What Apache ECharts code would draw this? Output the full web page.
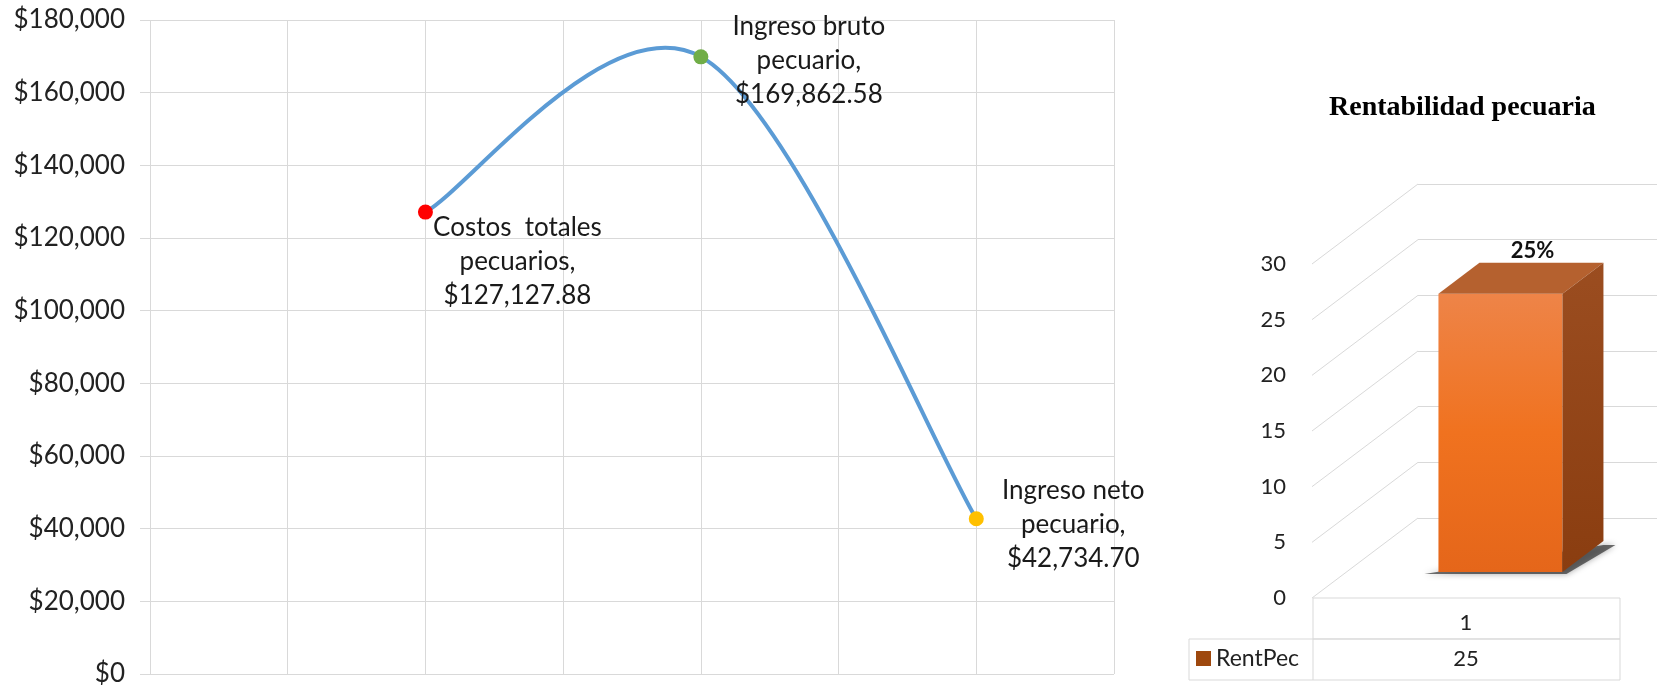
<!DOCTYPE html>
<html><head><meta charset="utf-8">
<script src="https://cdn.jsdelivr.net/npm/echarts@6/dist/echarts.min.js"></script>
<style>html,body{margin:0;padding:0;background:#fff}#c{width:1657px;height:692px}</style>
</head><body><div id="c"></div>
<script>
// ---- data: left chart ----
const pointNames = ['Costos  totales\npecuarios', 'Ingreso bruto\npecuario', 'Ingreso neto\npecuario'];
const pointX = [1, 2, 3];
const pointValues = [127127.88, 169862.58, 42734.70];
const leftYMin = 0, leftYMax = 180000, leftYStep = 20000;
const leftXMin = 0, leftXMax = 3.5, leftXStep = 0.5;
// ---- data: right chart ----
const rentTitle = 'Rentabilidad pecuaria';
const rentCategories = ['1'];
const rentSeriesName = 'RentPec';
const rentValues = [25];
const rentTicks = [0, 5, 10, 15, 20, 25, 30];

// ---- styles / layout ----
const pointColors = ['#FF0000', '#70AD47', '#FFC000'];
const labelOffsets = [[92, 50], [108, 4], [97, 6]];
const FONT = 'Lato';
const DEPTH_DX = 106, DEPTH_DY = -80;

function money(v, dec) {
  const s = Number(v).toFixed(dec);
  const parts = s.split('.');
  parts[0] = parts[0].replace(/\B(?=(\d{3})+(?!\d))/g, ',');
  return '$' + parts.join('.');
}

const chart = echarts.init(document.getElementById('c'));

const option = {
  backgroundColor: '#ffffff',
  animation: false,
  title: {
    text: rentTitle, left: 1324, top: 89,
    textStyle: {fontFamily: 'Liberation Serif', fontWeight: 'bold', fontSize: 28, color: '#000'}
  },
  legend: {
    data: [rentSeriesName], left: 1196, top: 647, padding: 0,
    icon: 'rect', itemWidth: 15, itemHeight: 15,
    textStyle: {fontFamily: FONT, fontSize: 23, color: '#222'}
  },
  grid: [
    {left: 150, right: 543, top: 20, bottom: 18},
    {left: 1312, width: 308, top: 264, height: 334},
    {left: 1418, right: 0, top: 184, height: 334}
  ],
  xAxis: [
    {gridIndex: 0, type: 'value', min: leftXMin, max: leftXMax, interval: leftXStep,
     axisLabel: {show: false}, axisTick: {show: false}, axisLine: {show: false},
     splitLine: {show: true, lineStyle: {color: '#d9d9d9', width: 1}}},
    {gridIndex: 1, type: 'category', data: rentCategories,
     axisLine: {show: false}, axisTick: {show: false}, splitLine: {show: false},
     axisLabel: {fontFamily: FONT, fontSize: 22, color: '#222', margin: 14}},
    {gridIndex: 2, type: 'category', data: rentCategories, show: false}
  ],
  yAxis: [
    {gridIndex: 0, type: 'value', min: leftYMin, max: leftYMax, interval: leftYStep,
     axisLine: {show: false},
     axisTick: {show: true, length: 10, lineStyle: {color: '#d9d9d9'}},
     splitLine: {show: true, lineStyle: {color: '#d9d9d9', width: 1}},
     axisLabel: {fontFamily: FONT, fontSize: 26, color: '#222', margin: 25,
                 formatter: v => money(v, 0)}},
    {gridIndex: 1, type: 'value', min: rentTicks[0], max: rentTicks[rentTicks.length - 1], interval: rentTicks[1] - rentTicks[0],
     axisLine: {show: false}, axisTick: {show: false}, splitLine: {show: false},
     axisLabel: {fontFamily: FONT, fontSize: 22, color: '#222', margin: 26}},
    {gridIndex: 2, type: 'value', min: rentTicks[0], max: rentTicks[rentTicks.length - 1], interval: rentTicks[1] - rentTicks[0],
     axisLine: {show: false}, axisTick: {show: false}, axisLabel: {show: false},
     splitLine: {show: true, lineStyle: {color: '#d9d9d9', width: 1}}}
  ],
  series: [
    {
      // smoothed connecting curve (Catmull-Rom style, as in the spreadsheet)
      type: 'custom', xAxisIndex: 0, yAxisIndex: 0, silent: true,
      data: pointX.map((x, i) => [x, pointValues[i]]),
      renderItem: function (params, api) {
        const i = params.dataIndex, n = pointX.length;
        if (i >= n - 1) return null;
        const P = j => {
          const k = Math.max(0, Math.min(n - 1, j));
          return api.coord([pointX[k], pointValues[k]]);
        };
        const p0 = P(i - 1), p1 = P(i), p2 = P(i + 1), p3 = P(i + 2);
        const t = 1 / 6;
        return {
          type: 'bezierCurve',
          shape: {
            x1: p1[0], y1: p1[1], x2: p2[0], y2: p2[1],
            cpx1: p1[0] + (p2[0] - p0[0]) * t, cpy1: p1[1] + (p2[1] - p0[1]) * t,
            cpx2: p2[0] - (p3[0] - p1[0]) * t, cpy2: p2[1] - (p3[1] - p1[1]) * t
          },
          style: {stroke: '#5B9BD5', lineWidth: 4, fill: 'none', lineCap: 'round'}
        };
      },
      z: 3
    },
    {
      type: 'line', xAxisIndex: 0, yAxisIndex: 0,
      symbol: 'circle', symbolSize: 15,
      lineStyle: {opacity: 0, width: 0},
      data: pointX.map((x, i) => ({
        value: [x, pointValues[i]], name: pointNames[i],
        itemStyle: {color: pointColors[i]},
        label: {offset: labelOffsets[i]}
      })),
      label: {
        show: true, position: 'inside', align: 'center', verticalAlign: 'middle',
        fontFamily: FONT, fontSize: 26, lineHeight: 34, color: '#1a1a1a',
        formatter: p => p.name + ',\n' + money(p.value[1], 2)
      },
      z: 5
    },
    {
      // side-wall diagonals of the 3D chart
      type: 'custom', xAxisIndex: 1, yAxisIndex: 1, silent: true,
      data: rentTicks.map(t => [0, t]),
      renderItem: function (params, api) {
        const p = api.coord([0, api.value(1)]);
        const x = params.coordSys.x;
        return {type: 'line', shape: {x1: x, y1: p[1], x2: x + DEPTH_DX, y2: p[1] + DEPTH_DY},
                style: {stroke: '#d9d9d9', lineWidth: 1}};
      },
      z: 1
    },
    {
      name: rentSeriesName, type: 'custom', xAxisIndex: 1, yAxisIndex: 1,
      itemStyle: {color: '#9E480E'},
      data: rentValues.map((v, i) => [i, v]),
      renderItem: function (params, api) {
        const idx = api.value(0), v = api.value(1);
        const base = api.coord([idx, 0]);
        const top = api.coord([idx, v]);
        const f = 0.325;
        const cx = base[0] + f * DEPTH_DX;
        const by = base[1] + f * DEPTH_DY;
        const ty = top[1] + f * DEPTH_DY;
        const w = 124, dx = 41, dy = -31;
        const x0 = cx - w / 2, x1 = cx + w / 2;
        return {type: 'group', children: [
          {type: 'polygon', shape: {points: [[x0 - 14, by + 2], [x1 + 4, by + 2], [x1 + dx + 12, by + dy + 4], [x1 + dx, by + dy + 4]]},
           style: {fill: 'rgba(50,50,50,0.7)', shadowBlur: 6, shadowColor: 'rgba(0,0,0,0.5)'}},
          {type: 'rect', shape: {x: x0, y: ty, width: w, height: by - ty},
           style: {fill: new echarts.graphic.LinearGradient(0, 0, 0, 1, [
             {offset: 0, color: '#EE8448'}, {offset: 0.5, color: '#F0721F'}, {offset: 1, color: '#E5661A'}])}},
          {type: 'polygon', shape: {points: [[x0, ty], [x1, ty], [x1 + dx, ty + dy], [x0 + dx, ty + dy]]},
           style: {fill: '#B5612F'}},
          {type: 'polygon', shape: {points: [[x1, ty], [x1 + dx, ty + dy], [x1 + dx, by + dy], [x1, by]]},
           style: {fill: new echarts.graphic.LinearGradient(0, 0, 0, 1, [
             {offset: 0, color: '#9B4D20'}, {offset: 1, color: '#8A3D10'}])}},
          {type: 'text', style: {text: v + '%', x: cx + 32, y: ty + dy - 12, align: 'center', verticalAlign: 'middle',
           fontFamily: FONT, fontWeight: 'bold', fontSize: 22, fill: '#111'}}
        ]};
      },
      z: 3
    }
  ],
  graphic: [
    {type: 'rect', shape: {x: 1313, y: 598, width: 307, height: 41}, style: {fill: 'none', stroke: '#d9d9d9', lineWidth: 1}},
    {type: 'rect', shape: {x: 1189, y: 639, width: 431, height: 41}, style: {fill: 'none', stroke: '#d9d9d9', lineWidth: 1}},
    {type: 'line', shape: {x1: 1313, y1: 639, x2: 1313, y2: 680}, style: {stroke: '#d9d9d9', lineWidth: 1}},
    {type: 'text', style: {text: String(rentValues[0]), x: 1466, y: 659, align: 'center', verticalAlign: 'middle',
      fontFamily: FONT, fontSize: 22, fill: '#222'}}
  ]
};
chart.setOption(option);
</script>
</body></html>
